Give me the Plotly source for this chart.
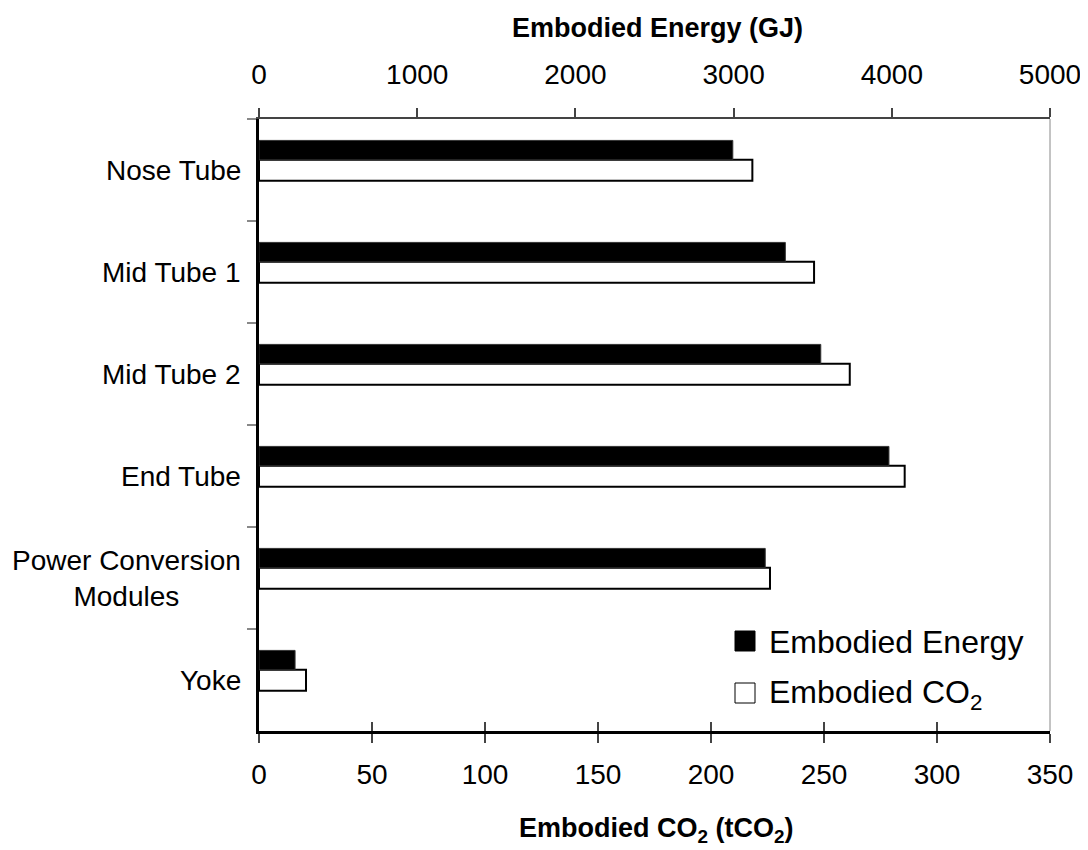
import plotly.graph_objects as go

categories = ["Nose Tube", "Mid Tube 1", "Mid Tube 2", "End Tube",
              "Power Conversion<br>Modules", "Yoke"]
energy_gj = [2995, 3327, 3551, 3982, 3200, 228]
co2_t = [218.3, 245.6, 261.4, 285.7, 226.1, 20.8]

energy_ticks = [0, 1000, 2000, 3000, 4000, 5000]
co2_ticks = [0, 50, 100, 150, 200, 250, 300, 350]

# the page body adds an 8px margin, so work in shifted coordinates
OFF = 8
W, H = 1088 - OFF, 850 - OFF
L, R, T, B = 259 - OFF, 1050 - OFF, 119 - OFF, 731 - OFF
FONT = "Liberation Sans, Arial, sans-serif"


def px(X):
    return (X - OFF - L) / (R - L)


def py(Y):
    return (B - (Y - OFF)) / (B - T)


fig = go.Figure()

fig.add_trace(go.Bar(
    y=categories, x=energy_gj, orientation="h", name="Embodied Energy",
    xaxis="x2", yaxis="y", offset=-0.29, width=0.19,
    marker=dict(color="black", line=dict(color="#333", width=1)),
    showlegend=False,
))
fig.add_trace(go.Bar(
    y=categories, x=co2_t, orientation="h", name="Embodied CO2",
    xaxis="x", yaxis="y", offset=-0.1, width=0.205,
    marker=dict(color="white", line=dict(color="black", width=2)),
    showlegend=False,
))
# helper invisible trace for crossing tick marks on bottom axis
fig.add_trace(go.Scatter(x=[None], y=[None], xaxis="x3", yaxis="y",
                         showlegend=False, hoverinfo="skip"))

tickfont = dict(family=FONT, size=28, color="black")

fig.update_layout(
    width=W, height=H,
    margin=dict(l=L, r=W - R, t=T, b=H - B, autoexpand=False),
    paper_bgcolor="white", plot_bgcolor="white",
    barmode="overlay",
    showlegend=False,
    font=dict(family=FONT, color="black"),
    xaxis=dict(
        range=[0, 350], tickvals=co2_ticks, ticks="outside", ticklen=9,
        tickwidth=1.5, tickcolor="#444", showgrid=False, zeroline=False,
        showline=True, linecolor="black", linewidth=3, tickfont=tickfont,
        ticklabelstandoff=7,
    ),
    xaxis2=dict(
        range=[0, 5000], tickvals=energy_ticks, overlaying="x", side="top",
        anchor="y", ticks="outside", ticklen=9, tickwidth=1.5, tickcolor="#444",
        showgrid=False, zeroline=False, showline=True, linecolor="#444",
        linewidth=1.5, tickfont=tickfont, ticklabelstandoff=13,
    ),
    xaxis3=dict(
        range=[0, 350], tickvals=co2_ticks, overlaying="x", side="bottom",
        anchor="y", ticks="inside", ticklen=9, tickwidth=1.5, tickcolor="#444",
        showticklabels=False, showgrid=False, zeroline=False, showline=False,
    ),
    yaxis=dict(
        type="category", categoryorder="array", categoryarray=categories,
        range=[len(categories) - 0.5, -0.5], tickson="boundaries",
        ticks="outside", ticklen=9, tickwidth=1.5, tickcolor="#888",
        showticklabels=False, showgrid=False, zeroline=False,
        showline=True, linecolor="black", linewidth=3,
    ),
)

# right border
fig.add_shape(type="line", xref="paper", yref="paper", x0=1, x1=1, y0=0, y1=1,
              line=dict(color="#888", width=1))

# category labels (centered multi-line blocks, right-aligned next to axis)
for c in categories:
    fig.add_annotation(text=c, x=px(243), xref="paper", y=c, yref="y",
                       xanchor="right", yanchor="middle", align="center",
                       showarrow=False,
                       font=dict(family=FONT, size=28, color="black"))

# axis titles
fig.add_annotation(text="<b>Embodied Energy (GJ)</b>", x=px(657), xref="paper",
                   y=py(28), yref="paper", xanchor="center", yanchor="middle",
                   showarrow=False, font=dict(family=FONT, size=27))
fig.add_annotation(text="<b>Embodied CO<sub>2</sub> (tCO<sub>2</sub>)</b>",
                   x=px(656), xref="paper", y=py(830), yref="paper",
                   xanchor="center", yanchor="middle", showarrow=False,
                   font=dict(family=FONT, size=27))

# legend
legend_items = [("Embodied Energy", "black", 641),
                ("Embodied CO<sub>2</sub>", "white", 693)]
for label, color, yc in legend_items:
    fig.add_shape(type="rect", xref="paper", yref="paper",
                  x0=px(735), x1=px(755), y0=py(yc - 10), y1=py(yc + 10),
                  fillcolor=color, line=dict(color="black", width=1))
    fig.add_annotation(text=label, x=px(767), xref="paper", y=py(yc + 1),
                       yref="paper", xanchor="left", yanchor="middle",
                       showarrow=False,
                       font=dict(family=FONT, size=32, color="black"))

fig.write_html("out.html")
